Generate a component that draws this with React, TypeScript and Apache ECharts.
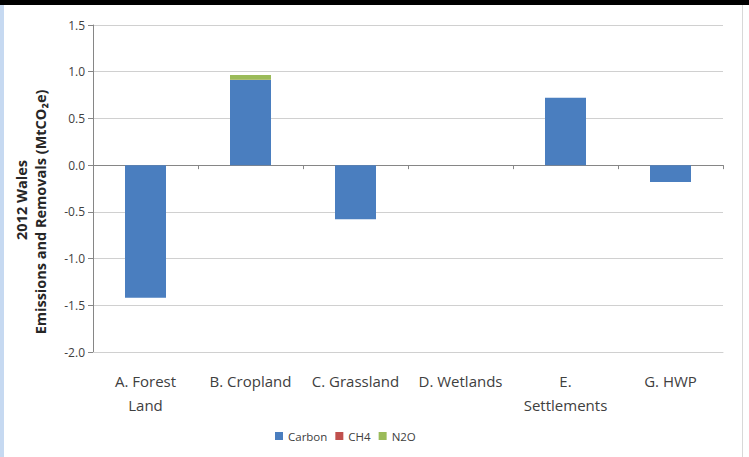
import React, { useEffect, useRef } from "react";
import * as echarts from "echarts";

const categories = ["A. Forest\nLand", "B. Cropland", "C. Grassland", "D. Wetlands", "E.\nSettlements", "G. HWP"];
const carbon = [-1.42, 0.91, -0.58, 0, 0.72, -0.18];
const ch4 = [0, 0.005, 0, 0, 0, 0];
const n2o = [0, 0.05, 0, 0, 0, 0];
const yTicks = { min: -2, max: 1.5, interval: 0.5 };

const FONT = "'Open Sans', 'Noto Sans', sans-serif";

export default function App() {
  const ref = useRef<HTMLDivElement>(null);
  useEffect(() => {
    if (!ref.current) return;
    const chart = echarts.init(ref.current, undefined, { renderer: "svg" });
    chart.setOption({
      animation: false,
      backgroundColor: "#ffffff",
      textStyle: { fontFamily: FONT },
      grid: { left: 93, right: 26, top: 25, bottom: 105, containLabel: false },
      legend: {
        left: 270,
        top: 425,
        itemWidth: 8,
        itemHeight: 8,
        itemGap: 8,
        icon: "rect",
        textStyle: { fontFamily: FONT, fontSize: 11.5, color: "#404040" },
        data: ["Carbon", "CH4", "N2O"],
      },
      xAxis: [
        {
          type: "category",
          data: categories,
          position: "bottom",
          axisLine: { onZero: false, lineStyle: { color: "#d0d0d0" } },
          axisTick: { show: false },
          axisLabel: { color: "#404040", fontSize: 15, fontFamily: FONT, margin: 17, lineHeight: 24, interval: 0 },
        },
        {
          type: "category",
          data: categories,
          position: "bottom",
          axisLine: { onZero: true, lineStyle: { color: "#868686" } },
          axisTick: { show: true, length: 4, lineStyle: { color: "#868686" } },
          axisLabel: { show: false },
        },
      ],
      yAxis: {
        type: "value",
        min: yTicks.min,
        max: yTicks.max,
        interval: yTicks.interval,
        axisLine: { show: true, lineStyle: { color: "#868686" } },
        axisTick: { show: true, length: 5, lineStyle: { color: "#868686" } },
        splitLine: { lineStyle: { color: "#d0d0d0" } },
        axisLabel: {
          color: "#404040",
          fontSize: 12,
          fontFamily: FONT,
          margin: 8,
          formatter: (v: number) => v.toFixed(1),
        },
      },
      graphic: [
        { type: "rect", shape: { x: 0, y: 0, width: 749, height: 5 }, style: { fill: "#000000" } },
        { type: "rect", shape: { x: 0, y: 5, width: 4, height: 452 }, style: { fill: "#c6d9f1" } },
        { type: "rect", shape: { x: 742, y: 5, width: 1, height: 452 }, style: { fill: "#d8d8d8" } },
        {
          type: "text",
          x: 21,
          y: 200,
          rotation: Math.PI / 2,
          style: {
            text: "2012 Wales",
            fontFamily: FONT,
            fontSize: 14.5,
            fontWeight: "bold",
            fill: "#262626",
            align: "center",
            verticalAlign: "middle",
          },
        },
        {
          type: "text",
          x: 40,
          y: 212,
          rotation: Math.PI / 2,
          style: {
            text: "Emissions and Removals (MtCO₂e)",
            fontFamily: FONT,
            fontSize: 14.5,
            fontWeight: "bold",
            fill: "#262626",
            align: "center",
            verticalAlign: "middle",
          },
        },
      ],
      series: [
        { name: "Carbon", type: "bar", stack: "t", data: carbon, barWidth: 41, itemStyle: { color: "#4a7ebf" } },
        { name: "CH4", type: "bar", stack: "t", data: ch4, barWidth: 41, itemStyle: { color: "#c0504d" } },
        { name: "N2O", type: "bar", stack: "t", data: n2o, barWidth: 41, itemStyle: { color: "#9bbb59" } },
      ],
    });
    return () => chart.dispose();
  }, []);
  return <div ref={ref} style={{ width: 749, height: 457, position: "absolute", left: 0, top: 0 }} />;
}
